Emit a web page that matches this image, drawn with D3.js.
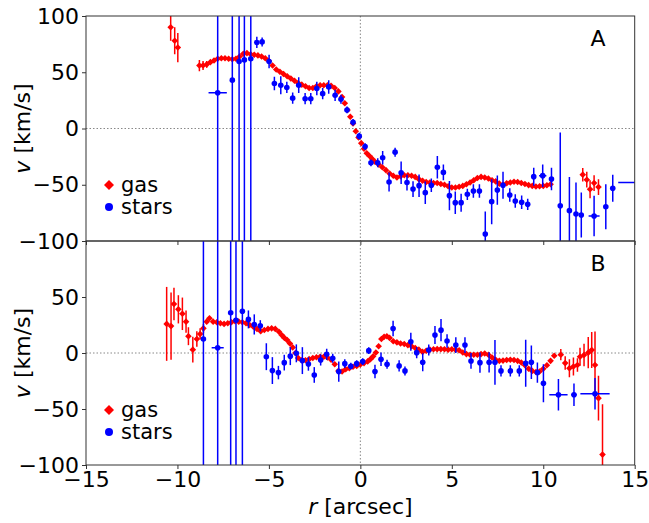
<!DOCTYPE html>
<html>
<head>
<meta charset="utf-8">
<script src="https://cdn.jsdelivr.net/npm/d3@7"></script>
<style>
  body { margin: 0; background: #fff; }
  text { font-family: "DejaVu Sans", sans-serif; fill: #000; }
</style>
</head>
<body>
<svg id="chart" width="649" height="523"></svg>
<script>
// axis ticks
const xTicks = [-15, -10, -5, 0, 5, 10, 15];
const yTicksA = [-100, -50, 0, 50, 100];
const yTicksB = [-100, -50, 0, 50];

// panel A, gas: [r, v, err]
const gasA = [
  [-10.37, 90, 12], [-10.15, 78, 12], [-9.98, 72, 13],
  [-8.8, 56, 5], [-8.6, 56, 4], [-8.4, 57, 3], [-8.2, 59, 0], [-8.0, 60.5, 0],
  [-7.8, 62, 0], [-7.6, 62.5, 0], [-7.4, 62.5, 0], [-7.2, 62, 0], [-7.0, 61.5, 0],
  [-6.8, 62, 0], [-6.6, 64, 0], [-6.4, 66.5, 0], [-6.2, 67, 0], [-6.0, 66, 0],
  [-5.8, 65.5, 0], [-5.6, 65, 0], [-5.4, 64, 0], [-5.2, 62.5, 0], [-5.0, 60, 0],
  [-4.8, 56, 0], [-4.6, 52.5, 0], [-4.4, 50.5, 0], [-4.2, 48.5, 0], [-4.0, 46.5, 0],
  [-3.8, 44.5, 0], [-3.6, 42.5, 0], [-3.4, 40.5, 0], [-3.2, 39, 0], [-3.0, 37.5, 0],
  [-2.8, 36, 0], [-2.6, 36, 0], [-2.4, 37.5, 0], [-2.2, 38.5, 0], [-2.0, 38.5, 0],
  [-1.8, 38.5, 0], [-1.6, 38, 0], [-1.4, 36, 0], [-1.2, 33, 0], [-1.0, 28, 0],
  [-0.85, 22.5, 0], [-0.7, 16.5, 0], [-0.55, 10.5, 0], [-0.4, 4.5, 0], [-0.25, -2.5, 0],
  [-0.1, -8, 0], [0.05, -13, 0], [0.2, -18, 0], [0.35, -22, 0], [0.5, -24.5, 0],
  [0.65, -27, 0], [0.8, -29.5, 0], [1.0, -32, 0], [1.2, -34.5, 0], [1.4, -37, 0],
  [1.6, -40, 0], [1.8, -42, 0], [2.0, -43.5, 0], [2.2, -42.5, 0], [2.4, -41.5, 0],
  [2.6, -41.5, 0], [2.8, -42, 0], [3.0, -43, 0], [3.2, -45, 0], [3.4, -46.5, 0],
  [3.6, -47.5, 0], [3.8, -48, 0], [4.0, -48.5, 0], [4.2, -48.5, 0], [4.4, -49.3, 0],
  [4.6, -50, 0], [4.8, -51.3, 0], [5.0, -52.5, 0], [5.2, -52.5, 0], [5.4, -51.8, 0],
  [5.6, -51, 0], [5.8, -49.5, 0], [6.0, -48, 0], [6.2, -46, 0], [6.4, -44, 0],
  [6.6, -43, 0], [6.8, -43.5, 0], [7.0, -44.5, 0], [7.2, -46, 0], [7.4, -47, 0],
  [7.6, -49, 0], [7.8, -50, 0], [8.0, -48.7, 0], [8.2, -48, 0], [8.4, -47.3, 0],
  [8.6, -47.5, 0], [8.8, -48.5, 0], [9.0, -49.3, 0], [9.2, -50.3, 0], [9.4, -51, 0],
  [9.6, -51.5, 0], [9.8, -51.3, 0], [10.0, -51, 0], [10.2, -50.5, 0], [10.4, -49.6, 0],
  [12.16, -41, 6], [12.38, -45.5, 7], [12.56, -54, 8], [12.78, -48.5, 7], [13.02, -52, 7]
];

// panel A, stars: [r, v, yerr, xerr]
const starsA = [
  [-7.80, 31.8, 300, 0.5], [-7.00, 43, 300, 0], [-6.63, 59.5, 300, 0], [-6.34, 61, 300, 0],
  [-5.99, 62, 300, 0], [-5.66, 76.5, 5, 0], [-5.37, 77, 4, 0], [-4.99, 59.5, 6, 0],
  [-4.70, 40, 6, 0], [-4.35, 38.5, 8, 0], [-4.02, 36.5, 5, 0], [-3.70, 27, 5, 0],
  [-3.37, 38.5, 7, 0], [-3.02, 26.5, 5, 0], [-2.71, 26.5, 5, 0], [-2.38, 35.5, 6, 0],
  [-2.06, 31, 5, 0], [-1.73, 37, 6, 0], [-1.38, 29.5, 5, 0], [-1.06, 26, 4, 0],
  [-0.73, 16.5, 3, 0], [-0.40, 5.5, 3, 0], [-0.06, -6.8, 3, 0], [0.26, -16, 3, 0],
  [0.58, -30.5, 3, 0], [0.95, -30.5, 4, 0], [1.22, -26, 6, 0], [1.57, -47.5, 8.5, 0],
  [1.90, -21, 4, 0], [2.23, -39.3, 10, 0], [2.55, -48, 7, 0], [2.88, -53.8, 7, 0],
  [3.21, -50.8, 10, 0], [3.55, -57, 10, 0], [3.88, -50.4, 6, 0], [4.21, -34.5, 10, 0],
  [4.54, -39, 7, 0], [4.87, -59.7, 13, 0], [5.19, -65.9, 10, 0], [5.51, -65.9, 8, 0],
  [5.85, -58.5, 5, 0], [6.18, -55.6, 6, 0], [6.51, -55.6, 6, 0], [6.83, -93.8, 20, 0],
  [7.18, -65, 20, 0], [7.49, -54.7, 13, 0], [7.80, -50.4, 12, 0], [8.17, -59.1, 6, 0],
  [8.47, -64.4, 6, 0], [8.82, -65.6, 6, 0], [9.15, -67.4, 5, 0], [9.48, -42.8, 8, 0],
  [9.97, -41.9, 10, 0.2], [10.45, -44.9, 10, 0], [10.93, -68.6, 65, 0], [11.43, -73, 30, 0],
  [11.79, -76, 28, 0], [12.08, -76.9, 20, 0], [12.78, -77.8, 18, 0.3], [13.42, -69.5, 20, 0],
  [13.80, -53.2, 12, 0], [15.2, -48, 0, 1.1]
];

// panel B, gas: [r, v, err]
const gasB = [
  [-10.59, 26, 33], [-10.35, 24, 30], [-10.19, 43.8, 14.5], [-9.95, 39, 12.6],
  [-9.73, 35, 14.5], [-9.53, 28, 10], [-9.40, 15, 8], [-9.16, 3, 11.5],
  [-8.94, 12.5, 7], [-8.76, 17, 5], [-8.58, 22, 4],
  [-8.4, 28, 0], [-8.25, 31, 0], [-8.05, 28, 0], [-7.85, 27.5, 0], [-7.65, 26.5, 0],
  [-7.45, 26, 0], [-7.25, 26.5, 0], [-7.05, 27.5, 0], [-6.85, 28.5, 0], [-6.65, 28, 0],
  [-6.45, 27.5, 0], [-6.25, 26.5, 0], [-6.05, 25, 0], [-5.85, 23.5, 0], [-5.65, 21.5, 0],
  [-5.45, 19.5, 0], [-5.25, 20.5, 0], [-5.05, 21.5, 0], [-4.85, 22, 0], [-4.65, 21.5, 0],
  [-4.45, 19, 0], [-4.3, 16, 0], [-4.15, 13.5, 0], [-4.0, 11.5, 0], [-3.85, 8.5, 0],
  [-3.7, 5, 0], [-3.55, 0, 0], [-3.4, -4.5, 0], [-3.2, -6.5, 0], [-3.0, -6.5, 0],
  [-2.8, -5.5, 0], [-2.6, -4.5, 0], [-2.4, -3.8, 0], [-2.2, -3.3, 0], [-2.0, -3.3, 0],
  [-1.8, -4, 0], [-1.6, -6, 0], [-1.4, -10, 0], [-1.2, -16, 0], [-1.0, -16.5, 0],
  [-0.8, -14.5, 0], [-0.6, -13.5, 0], [-0.4, -12.3, 0], [-0.2, -11.5, 0], [0.0, -10.3, 0],
  [0.2, -9, 0], [0.4, -7.5, 0], [0.55, -5.5, 0], [0.7, -3, 0], [0.85, 0.5, 0],
  [1.0, 6, 0], [1.15, 12.5, 0], [1.3, 14.5, 0], [1.45, 15, 0], [1.6, 13.5, 0],
  [1.8, 10.5, 0], [2.0, 9.5, 0], [2.2, 8.5, 0], [2.4, 8, 0], [2.6, 7, 0],
  [2.8, 6, 0], [3.0, 4.5, 0], [3.2, 3, 0], [3.4, 1, 0], [3.6, 2, 0],
  [3.8, 3, 0], [4.0, 3.3, 0], [4.2, 3.5, 0], [4.4, 3.5, 0], [4.6, 3.3, 0],
  [4.8, 3, 0], [5.0, 3.3, 0], [5.2, 3, 0], [5.4, 2.5, 0], [5.6, 0.5, 0],
  [5.8, -1, 0], [6.0, -1.5, 0], [6.2, -1.5, 0], [6.4, -1.5, 0], [6.6, -1, 0],
  [6.8, -0.5, 0], [7.0, -1.5, 0], [7.2, -4, 0], [7.4, -6, 0], [7.6, -7, 0],
  [7.8, -6.8, 0], [8.0, -6.2, 0], [8.2, -6, 0], [8.4, -6.2, 0], [8.6, -7, 0],
  [8.8, -8.5, 0], [9.0, -11, 0], [9.2, -14, 0], [9.4, -16, 0], [9.6, -17, 0],
  [9.8, -16.5, 0], [10.0, -14, 0], [10.2, -11, 0], [10.4, -7, 0], [10.6, -2.5, 0],
  [10.96, -1.5, 5], [11.2, -9, 6], [11.43, -13.6, 8], [11.65, -12.1, 8], [11.87, -10.7, 6],
  [12.01, -3.3, 8], [12.23, -1.8, 10], [12.46, 0.3, 14], [12.65, 2.7, 16],
  [12.83, -10.7, 30], [13.02, -40.3, 20], [13.24, -90.7, 45]
];

// panel B, stars: [r, v, yerr, xerr]
const starsB = [
  [-8.58, 12.5, 300, 0], [-7.80, 4.7, 300, 0.33], [-7.09, 36, 300, 0], [-6.80, 29.3, 300, 0],
  [-6.45, 37.3, 300, 0], [-6.12, 30, 8, 0], [-5.80, 25.5, 9, 0], [-5.47, 24.3, 5, 0],
  [-5.14, -3.3, 12, 0], [-4.81, -15.7, 12, 0], [-4.48, -17.5, 6, 0], [-4.16, -8.6, 7, 0],
  [-3.83, -2.8, 8, 0], [-3.50, -0.3, 8, 0], [-3.17, -6.8, 12, 0], [-2.84, -9.8, 6, 0],
  [-2.52, -19.6, 7, 0], [-2.17, -6.2, 5, 0], [-1.84, -1.2, 5, 0], [-1.51, -4.7, 4, 0],
  [-1.18, -16.6, 9, 0], [-0.85, -9.5, 4, 0], [-0.52, -11.8, 3, 0], [-0.20, -9.5, 3, 0],
  [0.13, -7.7, 3, 0], [0.46, 2.1, 3, 0], [0.80, -16.6, 6, 0], [1.13, -5.6, 6, 0],
  [1.46, -10.1, 4, 0], [1.79, 21.9, 7, 0], [2.12, -11.5, 5, 0], [2.44, -16, 4, 0],
  [2.76, 10.1, 8, 0], [3.08, 0.3, 5, 0], [3.41, -8.3, 8, 0], [3.74, 2.7, 5, 0],
  [4.08, 16, 8, 0], [4.41, 20.4, 10, 0], [4.74, 10.7, 6, 0], [5.22, 7.1, 7, 0],
  [5.72, 7.1, 7, 0], [6.05, -7.1, 7, 0], [6.54, -8.6, 9, 0], [7.04, -8.3, 9, 0],
  [7.36, -8.3, 20, 0], [7.69, -16, 5, 0], [8.20, -16, 5, 0], [8.69, -16, 5, 0],
  [9.04, -9.2, 21, 0], [9.35, -8.3, 15, 0], [9.68, -17.5, 9, 0], [10.01, -27, 17, 0],
  [10.83, -37.3, 14, 0.5], [11.68, -37.3, 10, 0.15], [12.83, -36.4, 14, 0.8]
];

const svg = d3.select("#chart");
const left = 86, right = 634.7;
const fs = 22; // label font size
const x = d3.scaleLinear().domain([-15, 15]).range([left, right]);

function diamond(s) {
  return `M0,${-s}L${s},0L0,${s}L${-s},0Z`;
}

function minusFmt(d) {
  return d < 0 ? "\u2212" + Math.abs(d) : d;
}

function drawPanel(id, top, bottom, gas, stars, yTicks, letter, showX) {
  const y = d3.scaleLinear().domain([-100, 100]).range([bottom, top]);
  const g = svg.append("g");

  g.append("clipPath").attr("id", "clip" + id)
    .append("rect").attr("x", left).attr("y", top)
    .attr("width", right - left).attr("height", bottom - top);

  const plot = g.append("g").attr("clip-path", `url(#clip${id})`);

  // dotted zero lines
  plot.append("line")
    .attr("x1", left).attr("x2", right).attr("y1", y(0)).attr("y2", y(0))
    .attr("stroke", "#888").attr("stroke-width", 1).attr("stroke-dasharray", "1.5,2");
  plot.append("line")
    .attr("x1", x(0)).attr("x2", x(0)).attr("y1", top).attr("y2", bottom)
    .attr("stroke", "#888").attr("stroke-width", 1).attr("stroke-dasharray", "1.5,2");

  // gas error bars and markers
  plot.selectAll(".gerr").data(gas.filter(d => d[2] > 0)).enter().append("line")
    .attr("x1", d => x(d[0])).attr("x2", d => x(d[0]))
    .attr("y1", d => y(d[1] - d[2])).attr("y2", d => y(d[1] + d[2]))
    .attr("stroke", "#ff0000").attr("stroke-width", 1.5);
  plot.selectAll(".gas").data(gas).enter().append("path")
    .attr("d", diamond(3.3))
    .attr("transform", d => `translate(${x(d[0])},${y(d[1])})`)
    .attr("fill", "#ff0000");

  // stars error bars and markers
  plot.selectAll(".serr").data(stars.filter(d => d[2] > 0)).enter().append("line")
    .attr("x1", d => x(d[0])).attr("x2", d => x(d[0]))
    .attr("y1", d => y(d[1] - d[2])).attr("y2", d => y(d[1] + d[2]))
    .attr("stroke", "#0000ff").attr("stroke-width", 1.5);
  plot.selectAll(".sxerr").data(stars.filter(d => d[3] > 0)).enter().append("line")
    .attr("x1", d => x(d[0] - d[3])).attr("x2", d => x(d[0] + d[3]))
    .attr("y1", d => y(d[1])).attr("y2", d => y(d[1]))
    .attr("stroke", "#0000ff").attr("stroke-width", 1.5);
  plot.selectAll(".star").data(stars.filter(d => d[0] < 15)).enter().append("circle")
    .attr("cx", d => x(d[0])).attr("cy", d => y(d[1])).attr("r", 2.8)
    .attr("fill", "#0000ff");

  // frame
  g.append("rect").attr("x", left).attr("y", top)
    .attr("width", right - left).attr("height", bottom - top)
    .attr("fill", "none").attr("stroke", "#333").attr("stroke-width", 1);

  // axes
  const yAxis = d3.axisLeft(y).tickValues(yTicks).tickSize(4).tickPadding(3)
    .tickFormat(minusFmt);
  const ya = g.append("g").attr("transform", `translate(${left},0)`).call(yAxis);
  ya.select(".domain").remove();
  ya.selectAll("line").attr("stroke", "#333");
  ya.selectAll("text").attr("font-size", fs).attr("font-family", "DejaVu Sans");

  const xAxis = d3.axisBottom(x).tickValues(xTicks).tickSize(4).tickPadding(2)
    .tickFormat(d => showX ? minusFmt(d) : "");
  const xa = g.append("g").attr("transform", `translate(0,${bottom})`).call(xAxis);
  xa.select(".domain").remove();
  xa.selectAll("line").attr("stroke", "#333");
  xa.selectAll("text").attr("font-size", fs).attr("font-family", "DejaVu Sans");

  // y label
  const ylab = g.append("text")
    .attr("transform", `translate(30,${(top + bottom) / 2}) rotate(-90)`)
    .attr("text-anchor", "middle").attr("font-size", fs);
  ylab.append("tspan").attr("font-style", "italic").text("v");
  ylab.append("tspan").text(" [km/s]");

  // panel letter
  g.append("text").attr("x", 598).attr("y", top + 30)
    .attr("text-anchor", "middle").attr("font-size", fs).text(letter);

  // legend
  const ly = top + 169;
  g.append("path").attr("d", diamond(5)).attr("transform", `translate(109,${ly})`)
    .attr("fill", "#ff0000");
  g.append("text").attr("x", 121).attr("y", ly + 7).attr("font-size", 21).text("gas");
  g.append("circle").attr("cx", 109).attr("cy", ly + 22).attr("r", 4).attr("fill", "#0000ff");
  g.append("text").attr("x", 121).attr("y", ly + 29).attr("font-size", 21).text("stars");
}

drawPanel("A", 16, 241, gasA, starsA, yTicksA, "A", false);
drawPanel("B", 241, 465, gasB, starsB, yTicksB, "B", true);

// x label
const xlab = svg.append("text").attr("x", (left + right) / 2).attr("y", 514)
  .attr("text-anchor", "middle").attr("font-size", fs);
xlab.append("tspan").attr("font-style", "italic").text("r");
xlab.append("tspan").text(" [arcsec]");
</script>
</body>
</html>
